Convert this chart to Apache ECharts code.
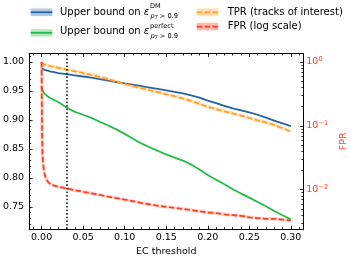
<!DOCTYPE html>
<html>
<head>
<meta charset="utf-8">
<script src="https://cdn.jsdelivr.net/npm/echarts@6/dist/echarts.min.js"></script>
<style>
html,body{margin:0;padding:0;background:#fff;}
#chart{width:357px;height:262px;}
</style>
</head>
<body>
<div id="chart"></div>
<script>
// ---- data ----
const thresholds = [0, 0.0005, 0.001, 0.002, 0.003, 0.005, 0.0075, 0.01, 0.015, 0.02,
  0.03, 0.04, 0.05, 0.06, 0.07, 0.08, 0.09, 0.10, 0.11, 0.12, 0.13, 0.14, 0.15, 0.16,
  0.17, 0.18, 0.19, 0.20, 0.21, 0.22, 0.23, 0.24, 0.25, 0.26, 0.27, 0.28, 0.29, 0.30];
const dmBound = [0.989, 0.9885, 0.988, 0.9872, 0.9866, 0.9858, 0.985, 0.984, 0.9825, 0.981,
  0.979, 0.977, 0.975, 0.973, 0.9705, 0.968, 0.9655, 0.963, 0.961, 0.9585, 0.956, 0.9535, 0.951, 0.9485,
  0.946, 0.9425, 0.9385, 0.9335, 0.929, 0.9245, 0.920, 0.9165, 0.913, 0.909, 0.904, 0.899, 0.894, 0.8895];
const dmErr = [0.0005, 0.0005, 0.0005, 0.0005, 0.0005, 0.0006, 0.0006, 0.0006, 0.0007, 0.0007,
  0.0008, 0.0009, 0.001, 0.0011, 0.0012, 0.0013, 0.0014, 0.0015, 0.0016, 0.0017, 0.0018, 0.0019, 0.002, 0.0021,
  0.0022, 0.0023, 0.0024, 0.0025, 0.0026, 0.0026, 0.0027, 0.0027, 0.0028, 0.0028, 0.0029, 0.0029, 0.003, 0.003];
const perfectBound = [0.957, 0.954, 0.951, 0.948, 0.946, 0.943, 0.9405, 0.938, 0.9345, 0.931,
  0.9215, 0.914, 0.909, 0.9035, 0.897, 0.8905, 0.8838, 0.876, 0.8675, 0.8595, 0.853, 0.8467, 0.8405, 0.835,
  0.830, 0.823, 0.8145, 0.805, 0.797, 0.789, 0.7805, 0.773, 0.766, 0.7585, 0.751, 0.743, 0.7355, 0.7284];
const perfectErr = [0.0004, 0.0004, 0.0004, 0.0004, 0.0004, 0.0005, 0.0005, 0.0005, 0.0005, 0.0006,
  0.0006, 0.0007, 0.0007, 0.0008, 0.0008, 0.0009, 0.0009, 0.001, 0.001, 0.0011, 0.0011, 0.0012, 0.0012, 0.0013,
  0.0013, 0.0014, 0.0014, 0.0015, 0.0015, 0.0016, 0.0016, 0.0017, 0.0017, 0.0018, 0.0018, 0.0019, 0.0019, 0.002];
const tprValues = [1.000, 0.9985, 0.9975, 0.9965, 0.996, 0.995, 0.994, 0.993, 0.9915, 0.990,
  0.987, 0.984, 0.981, 0.978, 0.9745, 0.9705, 0.966, 0.962, 0.9585, 0.955, 0.9515, 0.948, 0.9445, 0.941,
  0.937, 0.933, 0.928, 0.9225, 0.919, 0.915, 0.9115, 0.9075, 0.9035, 0.8995, 0.896, 0.8915, 0.886, 0.880];
const fprValues = [1.0, 0.08, 0.035, 0.024, 0.019, 0.015, 0.0134, 0.0124, 0.0116, 0.0111,
  0.0105, 0.0098, 0.0093, 0.0088, 0.0083, 0.0078, 0.0074, 0.0070, 0.0066, 0.0062, 0.0059, 0.0056, 0.0054, 0.0052,
  0.0050, 0.0048, 0.0046, 0.0044, 0.0043, 0.0041, 0.0040, 0.0039, 0.0037, 0.0036, 0.0035, 0.0035, 0.0034, 0.0033];
const workingPoint = 0.03;

const xTickLabels = [0.00, 0.05, 0.10, 0.15, 0.20, 0.25, 0.30];
const yTickLabels = [0.75, 0.80, 0.85, 0.90, 0.95, 1.00];
const fprTickLabels = [0.01, 0.1, 1];

// ---- styles ----
const BLUE = '#2563a8', GREEN = '#22bb45', ORANGE = '#ffa028', RED = '#ff3d1f';
const FONT = 'DejaVu Sans';
const TICK_FS = 9.5, LEG_FS = 10;
const X_MIN = -0.015, X_MAX = 0.315;
const Y_MIN = 0.7117, Y_MAX = 1.0147;
const F_MIN = 0.002417, F_MAX = 1.359;

const xMinor = []; for (let i = -1; i <= 31; i++) xMinor.push(i / 100);
const yMinor = []; for (let i = 72; i <= 101; i++) yMinor.push(i / 100);
const fMinor = [];
[0.001, 0.01, 0.1].forEach(d => { for (let k = 2; k <= 9; k++) fMinor.push(+(k * d).toPrecision(3)); });

const pairs = arr => thresholds.map((x, i) => [x, arr[i]]);

// measure legend text so that the sup/sub scripts follow the epsilon
const mctx = document.createElement('canvas').getContext('2d');
mctx.font = LEG_FS + 'px "' + FONT + '"';
const wMain = mctx.measureText('Upper bound on ').width;
mctx.font = 'italic ' + LEG_FS + 'px "' + FONT + '"';
const wEps = mctx.measureText('\u03b5').width;
const LEG_X = 60;
const SCRIPT_X = LEG_X + wMain + wEps + 0.8;

function xAx(pos, ticks, len, showLine, showLabel, extra) {
  return Object.assign({
    type: 'value', gridIndex: 0, position: pos, min: X_MIN, max: X_MAX,
    axisLine: { show: showLine, onZero: false, lineStyle: { color: '#000', width: 1 } },
    axisTick: { show: true, inside: true, length: len, customValues: ticks, lineStyle: { color: '#000', width: 0.8 } },
    axisLabel: showLabel ? { show: true, customValues: ticks, formatter: v => v.toFixed(2), fontSize: TICK_FS, color: '#000', fontFamily: FONT, margin: 3 } : { show: false },
    splitLine: { show: false }
  }, extra || {});
}
function yAx(pos, type, ticks, len, showLine, label, extra) {
  const o = {
    type: type, gridIndex: 0, position: pos,
    min: type === 'log' ? F_MIN : Y_MIN, max: type === 'log' ? F_MAX : Y_MAX,
    axisLine: { show: showLine, onZero: false, lineStyle: { color: '#000', width: 1 } },
    axisTick: { show: true, inside: true, length: len, customValues: ticks, lineStyle: { color: '#000', width: 0.8 } },
    axisLabel: label || { show: false },
    splitLine: { show: false }
  };
  if (type === 'log') o.logBase = 10;
  return Object.assign(o, extra || {});
}

function scriptText(x, y, txt) {
  return { type: 'text', x: x, y: y, style: { text: txt, fontSize: 6.6, fontFamily: FONT, fill: '#000', textVerticalAlign: 'middle' } };
}
function subText(x, y) {
  return { type: 'text', x: x, y: y, style: { text: '{p|p}{t|T}{r| > 0.9}', textVerticalAlign: 'middle',
    rich: { p: { fontSize: 6.6, fontFamily: FONT, fontStyle: 'italic', fill: '#000', lineHeight: 8 },
            t: { fontSize: 4.8, fontFamily: FONT, fontStyle: 'italic', fill: '#000', verticalAlign: 'bottom', lineHeight: 9 },
            r: { fontSize: 6.6, fontFamily: FONT, fill: '#000', lineHeight: 8 } } } };
}
function mainText(y) {
  return { type: 'text', x: LEG_X, y: y, style: { text: '{n|Upper bound on }{e|\u03b5}', textVerticalAlign: 'middle',
    rich: { n: { fontSize: LEG_FS, fontFamily: FONT, fill: '#000' }, e: { fontSize: LEG_FS, fontFamily: FONT, fontStyle: 'italic', fill: '#000' } } } };
}

const chart = echarts.init(document.getElementById('chart'), null, { renderer: 'canvas', width: 357, height: 262 });

const option = {
  animation: false,
  backgroundColor: '#fff',
  grid: { left: 27.5, right: 40.6, top: 53.5, bottom: 27, containLabel: false },
  xAxis: [
    xAx('bottom', xTickLabels, 3.5, true, true, {
      name: 'EC threshold', nameLocation: 'middle', nameGap: 14,
      nameTextStyle: { fontSize: TICK_FS, color: '#000', fontFamily: FONT }
    }),
    xAx('bottom', xMinor, 2, false, false),
    xAx('top', xTickLabels, 3.5, true, false),
    xAx('top', xMinor, 2, false, false)
  ],
  yAxis: [
    yAx('left', 'value', yTickLabels, 3.5, true,
      { show: true, customValues: yTickLabels, formatter: v => v.toFixed(2), fontSize: TICK_FS, color: '#000', fontFamily: FONT, margin: 5 }),
    yAx('right', 'log', fprTickLabels, 3.5, true, {
      show: true, customValues: fprTickLabels, margin: 3,
      formatter: v => { const e = Math.round(Math.log10(v)); return '{b|10}{s|' + (e < 0 ? '\u2212' + (-e) : String(e)) + '}'; },
      rich: {
        b: { fontSize: TICK_FS, color: RED, fontFamily: FONT, lineHeight: 12 },
        s: { fontSize: 6.6, color: RED, fontFamily: FONT, lineHeight: 6, verticalAlign: 'top' }
      }
    }, {
      name: 'FPR', nameLocation: 'middle', nameGap: 33, nameRotate: 90,
      nameTextStyle: { fontSize: TICK_FS, color: RED, fontFamily: FONT }
    }),
    yAx('left', 'value', yMinor, 2, false, null),
    yAx('right', 'log', fMinor, 2, false, null)
  ],
  series: [
    { type: 'line', name: 'dmLow', xAxisIndex: 0, yAxisIndex: 0, stack: 'dmBand', silent: true, showSymbol: false, symbol: 'none',
      data: thresholds.map((x, i) => [x, dmBound[i] - dmErr[i]]), lineStyle: { opacity: 0 } },
    { type: 'line', name: 'dmBand', xAxisIndex: 0, yAxisIndex: 0, stack: 'dmBand', silent: true, showSymbol: false, symbol: 'none',
      data: thresholds.map((x, i) => [x, 2 * dmErr[i]]), lineStyle: { opacity: 0 }, areaStyle: { color: BLUE, opacity: 0.35 } },
    { type: 'line', name: 'pfLow', xAxisIndex: 0, yAxisIndex: 0, stack: 'pfBand', silent: true, showSymbol: false, symbol: 'none',
      data: thresholds.map((x, i) => [x, perfectBound[i] - perfectErr[i]]), lineStyle: { opacity: 0 } },
    { type: 'line', name: 'pfBand', xAxisIndex: 0, yAxisIndex: 0, stack: 'pfBand', silent: true, showSymbol: false, symbol: 'none',
      data: thresholds.map((x, i) => [x, 2 * perfectErr[i]]), lineStyle: { opacity: 0 }, areaStyle: { color: GREEN, opacity: 0.35 } },
    { type: 'line', name: 'dm', xAxisIndex: 0, yAxisIndex: 0, showSymbol: false, symbol: 'none',
      data: pairs(dmBound), lineStyle: { color: BLUE, width: 1.8 } },
    { type: 'line', name: 'perfect', xAxisIndex: 0, yAxisIndex: 0, showSymbol: false, symbol: 'none',
      data: pairs(perfectBound), lineStyle: { color: GREEN, width: 1.8 },
      markLine: { silent: true, symbol: 'none', label: { show: false },
        lineStyle: { color: '#222', width: 1.6, type: [1.6, 2] },
        data: [{ xAxis: workingPoint }] } },
    { type: 'line', name: 'tprHalo', xAxisIndex: 0, yAxisIndex: 0, showSymbol: false, symbol: 'none', silent: true,
      data: pairs(tprValues), lineStyle: { color: ORANGE, width: 4, opacity: 0.25 } },
    { type: 'line', name: 'tpr', xAxisIndex: 0, yAxisIndex: 0, showSymbol: false, symbol: 'none',
      data: pairs(tprValues), lineStyle: { color: ORANGE, width: 1.8, type: [5.5, 2.4] } },
    { type: 'line', name: 'fprHalo', xAxisIndex: 0, yAxisIndex: 1, showSymbol: false, symbol: 'none', silent: true,
      data: pairs(fprValues), lineStyle: { color: RED, width: 3.5, opacity: 0.2 } },
    { type: 'line', name: 'fpr', xAxisIndex: 0, yAxisIndex: 1, showSymbol: false, symbol: 'none',
      data: pairs(fprValues), lineStyle: { color: RED, width: 1.8, type: [5.5, 2.4] } }
  ],
  graphic: [
    // legend column 1
    { type: 'rect', shape: { x: 30.7, y: 8.5, width: 21.6, height: 7.6 }, style: { fill: BLUE, opacity: 0.35 } },
    { type: 'line', shape: { x1: 30.7, y1: 12.3, x2: 52.3, y2: 12.3 }, style: { stroke: BLUE, lineWidth: 1.8 } },
    mainText(12.3),
    scriptText(SCRIPT_X, 6.6, 'DM'),
    subText(SCRIPT_X + 0.6, 16.2),

    { type: 'rect', shape: { x: 30.7, y: 29.3, width: 21.6, height: 7.2 }, style: { fill: GREEN, opacity: 0.35 } },
    { type: 'line', shape: { x1: 30.7, y1: 32.8, x2: 52.3, y2: 32.8 }, style: { stroke: GREEN, lineWidth: 1.8 } },
    mainText(31.8),
    scriptText(SCRIPT_X, 26.2, 'perfect'),
    subText(SCRIPT_X + 0.6, 35.8),

    // legend column 2
    { type: 'rect', shape: { x: 196.7, y: 8.5, width: 21.6, height: 7.6 }, style: { fill: ORANGE, opacity: 0.35 } },
    { type: 'line', shape: { x1: 196.7, y1: 12.3, x2: 218.3, y2: 12.3 }, style: { stroke: ORANGE, lineWidth: 1.8, lineDash: [5.5, 2.4] } },
    { type: 'text', x: 227.7, y: 12.6, style: { text: 'TPR (tracks of interest)', fontSize: LEG_FS, fontFamily: FONT, fill: '#000', textVerticalAlign: 'middle' } },

    { type: 'rect', shape: { x: 196.7, y: 22.8, width: 21.6, height: 7.6 }, style: { fill: RED, opacity: 0.35 } },
    { type: 'line', shape: { x1: 196.7, y1: 26.6, x2: 218.3, y2: 26.6 }, style: { stroke: RED, lineWidth: 1.8, lineDash: [5.5, 2.4] } },
    { type: 'text', x: 227.7, y: 26.8, style: { text: 'FPR (log scale)', fontSize: LEG_FS, fontFamily: FONT, fill: '#000', textVerticalAlign: 'middle' } }
  ]
};
chart.setOption(option);
</script>
</body>
</html>
